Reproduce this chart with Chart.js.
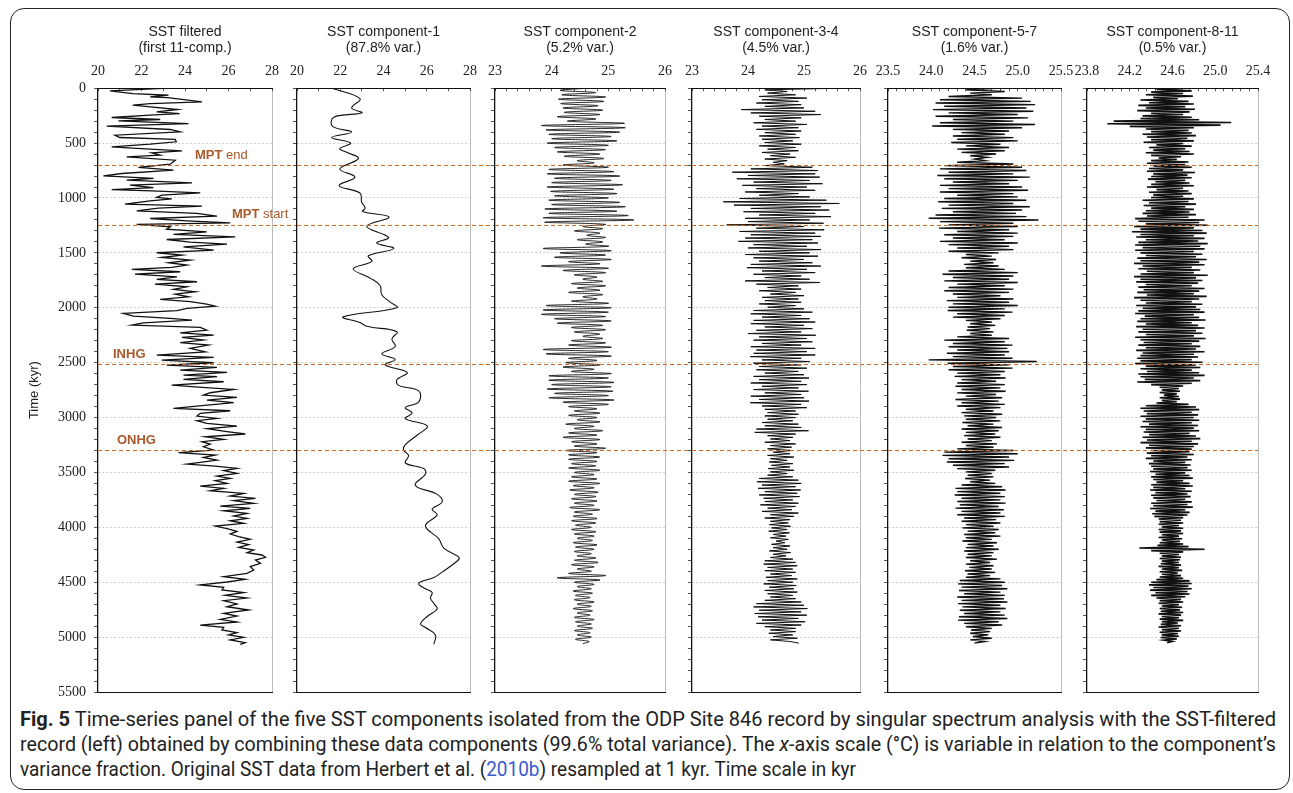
<!DOCTYPE html>
<html>
<head>
<meta charset="utf-8">
<title>SST components</title>
<script src="https://cdn.jsdelivr.net/npm/chart.js@4.4.0/dist/chart.umd.min.js"></script>
<style>
  html, body { margin: 0; padding: 0; background: #fff; }
  #page { position: relative; width: 1293px; height: 793px; overflow: hidden; }
  #page canvas { position: absolute; left: 0; top: 0; }
  #frame { position: absolute; left: 10px; top: 8px; width: 1280px; height: 782px; border: 1.5px solid #222;
           border-radius: 14px; box-sizing: border-box; }
  .cap { position: absolute; left: 20px; white-space: nowrap; color: #222; line-height: 25px;
         font-family: 'Liberation Sans Narrow', Roboto, 'Liberation Sans', sans-serif; font-size: 19.5px;
         transform-origin: 0 0; }
  .cap a { color: #3a5bd0; text-decoration: none; }
</style>
</head>
<body>
<div id="page">
  <div id="frame"></div>
  <div class="cap" style="top:707px" data-w="1256"><b>Fig. 5</b> Time-series panel of the five SST components isolated from the ODP Site 846 record by singular spectrum analysis with the SST-filtered</div>
  <div class="cap" style="top:732px" data-w="1256">record (left) obtained by combining these data components (99.6% total variance). The <i>x</i>-axis scale (°C) is variable in relation to the component’s</div>
  <div class="cap" style="top:757px" data-w="836">variance fraction. Original SST data from Herbert et al. (<a>2010b</a>) resampled at 1 kyr. Time scale in kyr</div>
</div>
<script>
// SST filtered record (first 11 components): age (kyr) and SST (°C)
const filteredAge = [0,24,49,64,79,85,124,140,155,194,
  215,231,246,267,285,298,322,346,376,398,
  428,449,467,488,510,534,549,571,589,610,
  625,656,692,722,747,777,798,822,838,862,
  883,905,923,935,953,974,995,1008,1026,1056,
  1075,1093,1117,1141,1166,1187,1208,1226,1241,1263,
  1284,1308,1332,1354,1378,1402,1420,1445,1475,1499,
  1521,1542,1566,1590,1612,1633,1651,1672,1694,1718,
  1742,1763,1784,1809,1833,1854,1876,1900,1924,1945,
  1967,1985,2006,2027,2052,2076,2097,2112,2137,2158,
  2179,2203,2228,2249,2270,2294,2318,2340,2370,2401,
  2431,2452,2477,2501,2522,2543,2568,2589,2613,2628,
  2653,2674,2704,2725,2744,2774,2795,2817,2841,2865,
  2896,2917,2938,2962,2987,3008,3029,3053,3078,3102,
  3129,3150,3175,3199,3220,3242,3266,3296,3320,3342,
  3363,3387,3408,3424,3442,3463,3484,3509,3533,3554,
  3575,3600,3624,3645,3666,3691,3715,3736,3757,3782,
  3806,3827,3849,3873,3897,3918,3940,3964,3988,4012,
  4037,4061,4085,4109,4134,4158,4182,4207,4231,4252,
  4273,4298,4328,4358,4389,4419,4449,4474,4498,4525,
  4547,4571,4595,4619,4644,4668,4698,4723,4753,4783,
  4808,4838,4862,4890,4911,4935,4959,4980,5002,5026,
  5050,5066];
const filteredSST = [23.24,20.55,21.6,23.24,22.4,23.2,24.78,22.4,21.6,23.66,
  22.7,23.75,22.4,20.63,22.86,20.94,24.16,20.4,23.32,23.78,
  20.78,21.0,23.55,23.6,22.4,20.63,21.78,23.86,22.47,22.86,
  21.32,23.55,23.32,21.86,23.47,21.1,20.25,22.55,21.32,24.32,
  21.47,22.55,20.63,22.47,24.7,22.93,22.7,23.39,22.4,21.24,
  24.78,22.78,21.78,24.55,25.47,22.4,24.09,26.08,21.78,23.32,
  23.16,25.0,23.47,26.31,23.16,24.24,25.93,23.93,25.32,22.7,
  23.86,22.93,24.24,23.24,24.09,23.39,21.55,23.78,21.7,23.63,
  22.7,24.55,22.62,24.09,23.47,24.47,23.55,24.16,22.86,24.24,
  25.0,25.39,24.09,23.63,21.17,21.63,23.32,24.32,22.09,21.55,
  24.7,25.0,23.78,25.32,23.86,24.85,23.78,25.08,24.24,24.93,
  22.7,25.32,22.93,25.32,23.16,25.47,23.78,25.93,23.93,25.47,
  23.93,25.78,23.39,24.78,26.24,25.16,24.85,26.39,25.01,26.24,
  24.55,23.47,26.08,24.7,24.55,25.47,24.55,25.01,26.39,25.01,
  25.93,26.77,24.93,25.78,24.78,25.16,24.85,25.32,23.7,25.39,
  24.85,25.47,24.7,24.09,25.39,26.39,25.78,26.39,25.47,26.08,
  25.39,25.93,24.7,25.78,25.16,26.7,26.08,27.24,26.24,27.16,
  25.62,27.0,25.78,26.85,26.24,26.85,26.08,26.7,25.39,25.93,
  26.39,26.08,26.47,27.0,26.39,26.93,26.47,27.16,26.85,27.54,
  27.7,27.24,27.47,27.0,27.16,26.85,25.78,26.77,25.93,24.7,
  25.78,25.7,26.7,25.85,26.85,25.78,26.39,25.93,26.93,25.78,
  26.39,25.62,26.39,24.7,25.78,25.7,26.39,26.0,26.7,26.08,
  26.77,26.54];

// component 1 (87.8% var.)
const comp1Age = [0,95,180,224,264,348,399,449,500,550,584,641,736,810,887,955,1039,1090,1123,1174,
  1258,1359,1410,1460,1527,1578,1645,1730,1797,1881,1948,1999,2083,2134,2168,2218,2285,2353,2420,2471,
  2521,2589,2656,2707,2757,2858,2909,2959,3010,3077,3161,3246,3296,3347,3414,3465,3515,3616,3700,3768,
  3835,3886,3987,4105,4189,4273,4307,4408,4458,4509,4560,4593,4644,4694,4745,4812,4880,4913,4980,5065];
const comp1SST = [21.62,22.91,22.53,23.0,21.7,21.64,22.53,21.6,22.48,21.98,22.3,22.84,21.98,22.68,21.95,22.91,22.99,23.15,23.04,24.26,
  23.22,24.23,23.69,24.47,23.3,23.46,22.6,23.38,23.84,23.92,24.31,24.62,22.14,22.91,23.22,24.62,24.39,24.54,23.92,24.54,
  24.08,25.09,24.62,24.7,25.63,25.63,25.01,25.32,25.01,26.02,25.55,25.01,24.93,25.16,25.01,25.86,25.94,25.47,26.48,26.71,
  26.25,26.48,25.94,26.56,26.79,27.49,27.41,26.71,26.33,25.63,25.94,26.25,26.17,26.33,26.48,26.02,25.71,25.94,26.4,26.33];

// component 2 (5.2% var.), one value every comp2Step kyr from 0
const comp2Step = 20;
const comp2SST = [24.62,24.15,24.78,24.18,24.95,24.12,24.92,24.16,24.82,24.20,
  24.90,24.22,24.85,24.10,24.78,24.28,25.28,23.82,25.30,23.90,
  25.20,23.95,25.05,24.00,25.15,23.92,25.00,24.05,24.95,24.10,
  24.85,24.22,24.92,24.45,24.75,24.20,25.00,23.95,25.10,23.92,
  25.20,24.05,25.05,24.00,25.25,23.92,25.10,23.98,25.15,24.05,
  25.00,23.95,25.20,24.00,25.30,23.88,25.15,23.95,25.35,23.85,
  25.45,23.88,24.95,24.55,24.90,24.40,24.85,24.62,24.95,24.45,
  24.90,24.60,25.00,23.85,25.05,24.15,24.95,24.05,25.05,24.30,
  24.85,23.82,25.00,24.20,24.95,24.40,24.80,24.55,24.90,24.35,
  24.95,24.45,24.85,24.30,24.90,24.55,24.80,24.35,25.00,23.90,
  25.05,23.85,25.00,23.82,24.95,24.05,25.05,24.10,24.90,24.35,
  24.95,24.40,24.85,24.55,24.90,24.35,24.95,24.30,25.05,23.85,
  25.00,23.90,25.05,24.30,24.80,24.25,24.85,24.20,24.75,24.35,
  25.05,23.95,25.00,23.95,25.10,24.00,25.05,23.92,25.08,24.05,
  25.00,23.95,25.10,24.20,25.00,24.30,24.80,24.40,24.85,24.30,
  24.80,24.45,24.85,24.25,24.75,24.40,24.90,24.30,24.80,24.20,
  24.85,24.35,24.80,24.40,24.95,24.25,24.80,24.30,24.85,24.30,
  24.80,24.35,24.78,24.30,24.85,24.40,24.75,24.35,24.80,24.30,
  24.85,24.38,24.75,24.32,24.82,24.40,24.78,24.35,24.80,24.40,
  24.75,24.32,24.85,24.40,24.72,24.38,24.80,24.35,24.78,24.42,
  24.70,24.35,24.78,24.40,24.75,24.45,24.72,24.38,24.80,24.42,
  24.75,24.40,24.70,24.45,24.78,24.40,24.82,24.35,24.75,24.45,
  24.70,24.30,24.95,24.10,24.85,24.40,24.75,24.45,24.70,24.38,
  24.72,24.42,24.68,24.40,24.75,24.45,24.70,24.38,24.72,24.45,
  24.68,24.40,24.75,24.42,24.70,24.45,24.72,24.40,24.68,24.45,
  24.70,24.42,24.66,24.55];

// components 3-4 (4.5% var.), one value every comp34Step kyr
const comp34Step = 15;
const comp34SST = [25.63,24.30,24.70,24.35,24.85,24.20,25.05,24.25,24.90,24.15,
  24.95,24.30,25.00,23.88,25.20,24.05,25.30,24.20,24.95,24.30,
  24.85,24.10,25.05,24.25,24.90,24.15,24.95,24.30,24.85,24.20,
  24.92,24.25,24.80,24.30,24.95,24.20,24.85,24.35,24.90,24.25,
  24.75,24.40,24.85,24.30,24.70,24.45,24.65,24.30,25.15,24.05,
  25.25,23.72,25.20,24.00,25.28,23.80,25.10,24.10,25.33,23.90,
  25.05,24.15,25.20,23.95,24.90,24.20,25.10,23.85,25.40,23.56,
  25.63,23.75,25.30,24.05,25.45,23.92,25.20,24.20,25.48,23.95,
  25.10,24.00,25.35,23.62,25.00,24.15,25.36,23.85,25.20,24.05,
  25.30,23.95,25.15,23.83,25.25,24.10,25.05,24.00,25.30,24.20,
  25.10,23.95,25.25,24.10,25.00,24.20,25.15,24.05,25.30,23.98,
  25.05,24.25,25.20,24.10,24.95,24.30,25.10,23.95,25.28,24.15,
  24.90,24.35,24.95,24.20,24.85,24.40,25.00,24.25,24.90,24.30,
  24.95,24.20,24.85,24.35,25.00,24.10,25.15,24.05,24.95,24.25,
  25.10,24.10,25.20,24.05,25.00,24.30,25.15,24.15,24.95,24.00,
  25.21,24.20,25.05,24.10,25.15,24.25,24.95,24.05,25.20,24.15,
  25.05,24.10,25.20,24.04,24.95,24.25,25.10,24.10,24.95,24.20,
  25.05,24.15,24.90,24.30,25.00,24.10,25.09,24.20,24.95,24.05,
  25.05,24.25,24.90,24.10,25.08,24.30,24.95,24.05,25.00,24.20,
  25.09,24.04,24.95,24.25,25.05,24.30,24.85,24.35,24.90,24.30,
  24.85,24.35,24.80,24.25,24.90,24.30,24.95,24.15,25.08,24.12,
  24.85,24.35,24.80,24.40,24.75,24.30,24.85,24.40,24.78,24.35,
  24.80,24.45,24.75,24.35,24.82,24.40,24.70,24.38,24.80,24.42,
  24.75,24.36,24.82,24.40,24.70,24.35,24.80,24.20,24.90,24.16,
  24.95,24.25,24.85,24.18,24.94,24.30,24.88,24.20,24.92,24.28,
  24.80,24.30,24.90,24.22,24.85,24.35,24.78,24.25,24.90,24.40,
  24.82,24.30,24.75,24.40,24.72,24.38,24.76,24.42,24.70,24.37,
  24.74,24.45,24.68,24.40,24.72,24.50,24.66,24.42,24.75,24.45,
  24.70,24.38,24.76,24.45,24.68,24.40,24.80,24.30,24.85,24.28,
  24.88,24.35,24.80,24.30,24.85,24.40,24.78,24.32,24.88,24.35,
  24.80,24.28,24.86,24.38,24.82,24.30,24.88,24.35,24.80,24.40,
  24.85,24.30,24.95,24.15,25.00,24.10,25.06,24.20,24.95,24.12,
  25.05,24.18,24.90,24.25,25.02,24.15,24.95,24.30,24.85,24.40,
  24.85,24.37,24.80,24.45,24.88,24.40,24.75,24.91];

// components 5-7 (1.6% var.), one value every comp57Step kyr
const comp57Step = 15;
const comp57SST = [24.75,24.40,24.85,24.45,24.70,24.20,25.05,24.10,25.15,24.05,
  25.20,24.15,25.10,24.02,25.18,24.20,25.00,24.05,25.12,24.25,
  24.95,24.10,25.20,24.01,25.05,24.25,24.90,24.35,24.85,24.25,
  24.95,24.30,25.00,24.23,24.80,24.40,24.90,24.30,24.85,24.35,
  24.75,24.45,24.65,24.50,24.62,24.30,24.95,24.15,25.05,24.10,
  25.10,24.20,24.95,24.07,25.14,24.15,25.00,24.25,24.90,24.10,
  25.05,24.20,25.12,24.10,24.95,24.30,25.00,24.15,25.10,24.08,
  24.95,24.20,25.14,24.12,25.05,24.25,24.98,24.05,25.10,23.97,
  25.24,24.10,24.95,24.20,25.00,24.09,24.90,24.30,25.00,24.15,
  24.95,24.25,24.85,24.10,25.00,24.20,24.90,24.30,24.95,24.20,
  24.78,24.40,24.70,24.35,24.75,24.45,24.72,24.38,24.78,24.40,
  24.85,24.20,25.00,24.13,24.95,24.25,24.90,24.15,25.00,24.30,
  24.85,24.20,24.95,24.15,24.90,24.25,24.80,24.30,24.95,24.18,
  24.90,24.25,25.00,24.20,24.85,24.19,24.94,24.30,24.85,24.25,
  24.80,24.40,24.70,24.45,24.74,24.42,24.68,24.41,24.72,24.45,
  24.70,24.30,24.90,24.15,24.85,24.25,24.94,24.20,24.88,24.30,
  24.90,24.18,24.85,24.25,24.94,23.97,25.22,24.19,24.90,24.25,
  24.94,24.20,24.85,24.30,24.80,24.27,24.86,24.35,24.75,24.30,
  24.85,24.28,24.80,24.35,24.86,24.30,24.75,24.40,24.82,24.28,
  24.78,24.35,24.85,24.30,24.80,24.40,24.72,24.35,24.82,24.38,
  24.75,24.40,24.80,24.36,24.72,24.42,24.82,24.35,24.78,24.40,
  24.74,24.38,24.80,24.42,24.70,24.35,24.76,24.40,24.72,24.30,
  24.95,24.15,25.00,24.13,24.90,24.20,24.96,24.18,24.85,24.25,
  24.90,24.30,24.74,24.40,24.70,24.42,24.72,24.39,24.68,24.45,
  24.74,24.35,24.82,24.28,24.86,24.30,24.80,24.27,24.85,24.35,
  24.80,24.30,24.86,24.33,24.78,24.28,24.84,24.35,24.80,24.30,
  24.85,24.38,24.75,24.35,24.80,24.40,24.72,24.36,24.78,24.42,
  24.74,24.38,24.80,24.40,24.70,24.36,24.76,24.42,24.72,24.40,
  24.78,24.38,24.72,24.42,24.70,24.40,24.76,24.45,24.68,24.40,
  24.72,24.44,24.70,24.39,24.74,24.42,24.68,24.40,24.80,24.33,
  24.85,24.31,24.82,24.35,24.88,24.32,24.80,24.38,24.85,24.30,
  24.84,24.35,24.88,24.31,24.80,24.36,24.86,24.33,24.80,24.38,
  24.85,24.32,24.88,24.31,24.78,24.38,24.82,24.40,24.70,24.46,
  24.68,24.45,24.66,24.48,24.70,24.45,24.62,24.50];

// components 8-11 (0.5% var.), one value every comp811Step kyr
const comp811Step = 12;
const comp811SST = [24.72,24.45,24.78,24.40,24.70,24.35,24.79,24.42,24.65,24.30,24.75,24.38,
  24.80,24.28,24.72,24.35,24.81,24.27,24.76,24.40,24.70,24.32,24.78,24.30,
  24.85,24.05,25.15,23.99,25.05,24.20,24.80,24.35,24.75,24.40,24.78,24.32,
  24.82,24.36,24.74,24.40,24.80,24.33,24.70,24.45,24.78,24.38,24.72,24.42,
  24.76,24.35,24.80,24.40,24.68,24.47,24.64,24.40,24.75,24.36,24.72,24.42,
  24.78,24.38,24.70,24.36,24.81,24.42,24.74,24.40,24.78,24.37,24.72,24.44,
  24.76,24.40,24.80,24.36,24.70,24.45,24.75,24.38,24.78,24.42,24.70,24.40,
  24.80,24.32,24.75,24.38,24.82,24.33,24.72,24.40,24.80,24.35,24.76,24.32,
  24.82,24.36,24.75,24.25,24.90,24.28,24.85,24.35,24.93,24.24,24.80,24.30,
  24.88,24.22,24.92,24.30,24.80,24.26,24.90,24.35,24.84,24.28,24.93,24.25,
  24.86,24.32,24.90,24.25,24.80,24.30,24.88,24.35,24.82,24.27,24.92,24.30,
  24.85,24.24,24.90,24.32,24.78,24.28,24.86,24.36,24.80,24.30,24.93,24.24,
  24.82,24.30,24.88,24.26,24.84,24.35,24.78,24.28,24.90,24.33,24.85,24.27,
  24.80,24.36,24.92,24.24,24.85,24.30,24.78,24.35,24.88,24.26,24.82,24.32,
  24.86,24.28,24.90,24.25,24.80,24.34,24.85,24.30,24.91,24.27,24.78,24.35,
  24.84,24.26,24.90,24.32,24.82,24.28,24.88,24.35,24.80,24.25,24.91,24.30,
  24.85,24.33,24.78,24.28,24.86,24.35,24.82,24.26,24.90,24.32,24.80,24.30,
  24.84,24.27,24.78,24.30,24.88,24.25,24.82,24.35,24.86,24.30,24.78,24.36,
  24.85,24.28,24.90,24.30,24.80,24.34,24.86,24.27,24.78,24.40,24.70,24.48,
  24.66,24.50,24.67,24.48,24.64,24.52,24.66,24.48,24.67,24.50,24.64,24.45,
  24.75,24.35,24.82,24.30,24.85,24.33,24.78,24.36,24.84,24.30,24.80,24.35,
  24.85,24.32,24.78,24.38,24.84,24.30,24.80,24.35,24.85,24.33,24.76,24.38,
  24.82,24.32,24.86,24.36,24.78,24.30,24.84,24.38,24.80,24.35,24.78,24.40,
  24.76,24.36,24.80,24.40,24.74,24.35,24.78,24.42,24.72,24.38,24.77,24.40,
  24.74,24.42,24.78,24.39,24.72,24.44,24.76,24.40,24.79,24.42,24.70,24.45,
  24.76,24.40,24.79,24.42,24.72,24.39,24.78,24.44,24.74,24.40,24.77,24.42,
  24.72,24.45,24.78,24.40,24.74,24.42,24.79,24.39,24.72,24.44,24.76,24.41,
  24.74,24.43,24.70,24.47,24.68,24.48,24.70,24.47,24.66,24.50,24.70,24.47,
  24.68,24.48,24.70,24.50,24.66,24.47,24.69,24.50,24.67,24.48,24.70,24.46,
  24.75,24.29,24.90,24.40,24.70,24.48,24.66,24.50,24.68,24.48,24.67,24.50,
  24.66,24.49,24.68,24.47,24.66,24.50,24.69,24.48,24.65,24.50,24.68,24.48,
  24.70,24.45,24.76,24.40,24.78,24.38,24.75,24.42,24.78,24.39,24.74,24.44,
  24.76,24.40,24.72,24.45,24.68,24.48,24.70,24.47,24.66,24.50,24.69,24.48,
  24.67,24.49,24.70,24.47,24.68,24.50,24.66,24.48,24.70,24.50,24.65,24.49,
  24.68,24.47,24.66,24.50,24.68,24.48,24.65,24.50,24.66,24.49,24.64,24.52,
  24.60,24.55];

// panel headers and x scales
const panelTitles = [['SST filtered', '(first 11-comp.)'], ['SST component-1', '(87.8% var.)'],
  ['SST component-2', '(5.2% var.)'], ['SST component-3-4', '(4.5% var.)'],
  ['SST component-5-7', '(1.6% var.)'], ['SST component-8-11', '(0.5% var.)']];
const xMin = [20, 20, 23, 23, 23.5, 23.8];
const xMax = [28, 28, 26, 26, 25.5, 25.4];
const xMajor = [2, 2, 1, 1, 0.5, 0.4];
const xMinor = [1, 1, 0.2, 0.2, 0.1, 0.08];
const xDecimals = [0, 0, 0, 0, 1, 1];

// climate transitions (kyr)
const eventAges = [700, 1245, 2515, 3300];
const eventBold = ['MPT', 'MPT', 'INHG', 'ONHG'];
const eventRest = [' end', ' start', '', ''];

// layout (pixels) and styling
const W = 1293, H = 793;
const panelLeft = [98, 297, 495, 692, 888, 1087];
const panelRight = [272, 470, 665, 860, 1061, 1258];
const plotBottom = 692;
const eventLabelX = [24.46, 26.16, 20.69, 20.87]; // in panel-1 °C units
const lineWidths = [1.3, 1.1, 0.9, 1.0, 1.4, 1.6];
const lineTension = [0, 0.4, 0.4, 0, 0, 0];
const SERIF = '"Liberation Serif", "DejaVu Serif", "Times New Roman", serif';
const SANS = '"Liberation Sans", Arial, Helvetica, sans-serif';

const series = [
  filteredAge.map((t, i) => ({ x: filteredSST[i], y: t })),
  comp1Age.map((t, i) => ({ x: comp1SST[i], y: t })),
  comp2SST.map((v, i) => ({ x: v, y: i * comp2Step })),
  comp34SST.map((v, i) => ({ x: v, y: i * comp34Step })),
  comp57SST.map((v, i) => ({ x: v, y: i * comp57Step })),
  comp811SST.map((v, i) => ({ x: v, y: i * comp811Step }))
];

function stepTicks(min, max, step) {
  const out = [];
  const n = Math.round((max - min) / step);
  for (let k = 0; k <= n; k++) out.push({ value: +(min + k * step).toFixed(4) });
  return out;
}

// dashed event lines across the panels, labels on the first one
const eventPlugin = {
  id: 'events',
  afterDatasetsDraw(chart, args, opts) {
    const { ctx, chartArea, scales } = chart;
    ctx.save();
    ctx.strokeStyle = '#d2691e';
    ctx.lineWidth = 1;
    ctx.setLineDash([4, 3]);
    eventAges.forEach(a => {
      const y = Math.round(scales.y.getPixelForValue(a)) + 0.5;
      ctx.beginPath();
      ctx.moveTo(chartArea.left, y);
      ctx.lineTo(opts.lineEnd, y);
      ctx.stroke();
    });
    ctx.setLineDash([]);
    if (opts.labels) {
      ctx.fillStyle = '#a9592b';
      ctx.textBaseline = 'middle';
      eventAges.forEach((a, i) => {
        const x = scales.x.getPixelForValue(eventLabelX[i]);
        const y = scales.y.getPixelForValue(a) - 10;
        ctx.font = 'bold 13px ' + SANS;
        ctx.fillText(eventBold[i], x, y);
        const w = ctx.measureText(eventBold[i]).width;
        ctx.font = '13px ' + SANS;
        ctx.fillText(eventRest[i], x + w, y);
      });
    }
    ctx.restore();
  }
};

const page = document.getElementById('page');
series.forEach((pts, p) => {
  const canvas = document.createElement('canvas');
  canvas.width = W;
  canvas.height = H;
  page.appendChild(canvas);
  const first = p === 0;
  const min = xMin[p], max = xMax[p];
  new Chart(canvas.getContext('2d'), {
    type: 'scatter',
    data: {
      datasets: [{
        data: pts,
        showLine: true,
        borderColor: '#111',
        borderWidth: lineWidths[p],
        pointRadius: 0,
        tension: lineTension[p],
        fill: false
      }]
    },
    plugins: [eventPlugin],
    options: {
      responsive: false,
      animation: false,
      devicePixelRatio: 1,
      layout: { padding: { left: first ? 27 : panelLeft[p], right: W - panelRight[p], top: 10, bottom: H - plotBottom } },
      plugins: {
        legend: { display: false },
        tooltip: { enabled: false },
        title: {
          display: true,
          text: panelTitles[p],
          fullSize: false,
          color: '#222',
          font: { family: SANS, size: 14, weight: 'normal', lineHeight: 1.15 },
          padding: { top: 14, bottom: 0 }
        },
        events: { lineEnd: p < 5 ? panelLeft[p + 1] : panelRight[p], labels: first }
      },
      scales: {
        x: {
          type: 'linear',
          position: 'top',
          min: min,
          max: max,
          afterBuildTicks: s => { s.ticks = stepTicks(min, max, xMinor[p]); },
          afterFit: s => { s.height = 32; },
          ticks: {
            autoSkip: false,
            maxRotation: 0,
            padding: 11,
            color: '#222',
            font: { family: SERIF, size: 14 },
            callback: v => {
              const r = (v - min) / xMajor[p];
              return Math.abs(r - Math.round(r)) < 1e-6 ? v.toFixed(xDecimals[p]) : '';
            }
          },
          grid: {
            color: c => (c.tick && Math.abs(c.tick.value - max) < 1e-6) ? '#bdbdbd' : 'transparent',
            tickColor: '#555',
            tickLength: -3
          },
          border: { color: '#111', width: 1 }
        },
        xb: {
          type: 'linear',
          position: 'bottom',
          min: min,
          max: max,
          display: true,
          afterFit: s => { s.height = 0; },
          ticks: { display: false },
          grid: { display: false, drawTicks: false },
          border: { color: '#111', width: 1 }
        },
        y: {
          type: 'linear',
          reverse: true,
          min: 0,
          max: 5500,
          afterBuildTicks: s => { s.ticks = stepTicks(0, 5500, 100); },
          afterFit: s => { s.width = first ? 71 : 0; },
          ticks: {
            display: first,
            autoSkip: false,
            padding: 8,
            color: '#222',
            font: { family: SERIF, size: 14 },
            callback: v => (v % 500 === 0 ? String(v) : '')
          },
          grid: {
            color: c => (c.tick && c.tick.value % 500 === 0 && c.tick.value > 0 && c.tick.value < 5500) ? '#cccccc' : 'transparent',
            tickColor: '#555',
            tickLength: 4
          },
          border: { color: '#111', width: 1.3, dash: [2, 2] },
          title: {
            display: first,
            text: 'Time (kyr)',
            color: '#222',
            padding: 0,
            font: { family: SANS, size: 13 }
          }
        }
      }
    }
  });
});

// stretch each caption line to the width it takes in the figure
document.querySelectorAll('.cap').forEach(el => {
  const sx = Number(el.dataset.w) / el.getBoundingClientRect().width;
  el.style.transform = 'scaleX(' + sx.toFixed(4) + ')';
});
</script>
</body>
</html>
